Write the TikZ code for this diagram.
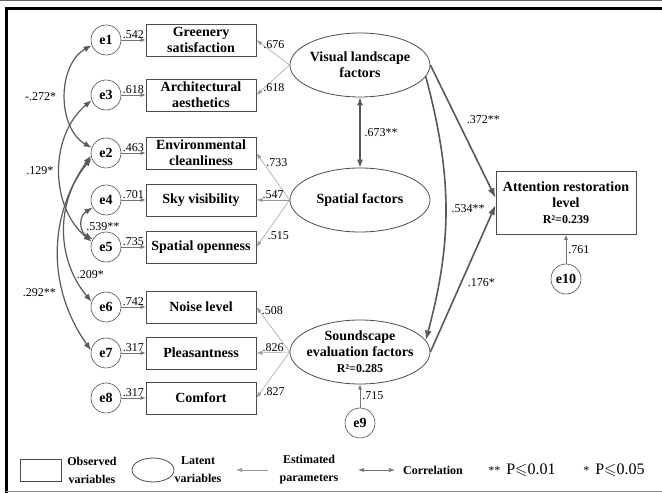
\documentclass[tikz,border=0pt]{standalone}
\usepackage{amssymb}
\usepackage{fontspec}
\setmainfont{Liberation Serif}
\usetikzlibrary{shapes.geometric,arrows.meta}

\tikzset{
  obs/.style={draw=black!70, line width=0.8pt, minimum width=110pt, minimum height=32pt, inner sep=0pt, align=center, font=\fontsize{14}{16}\selectfont\bfseries},
  latent/.style={ellipse, draw=black!70, line width=0.8pt, minimum width=140pt, minimum height=64pt, inner sep=0pt},
  lattxt/.style={align=center, font=\fontsize{14}{16}\selectfont\bfseries},
  err/.style={circle, draw=black!70, line width=0.6pt, minimum size=30pt, inner sep=0pt, font=\fontsize{14}{16}\selectfont\bfseries},
  coef/.style={font=\fontsize{12}{12}\selectfont, inner sep=1pt},
  legtxt/.style={align=center, font=\fontsize{12}{18}\selectfont\bfseries},
  errarr/.style={-{Latex[length=5pt,width=4pt]}, draw=black!55, line width=0.6pt},
  load/.style={-{Latex[length=6pt,width=4pt]}, draw=black!40, line width=0.5pt},
  struct/.style={-{Latex[length=10pt,width=7pt]}, draw=black!65, line width=1.6pt},
  covar/.style={{Latex[length=8pt,width=6pt]}-{Latex[length=8pt,width=6pt]}, draw=black!65, line width=1.2pt},
}

\begin{document}
\begin{tikzpicture}[x=1pt,y=1pt]
\useasboundingbox (0,0) rectangle (662,493);
% frame
\draw[black!60, line width=1pt] (0,492.5) -- (662,492.5);
\draw[line width=3pt] (4.5,484) -- (662,484);
\draw[line width=3pt] (6,485.5) -- (6,0);
\draw[black!45, line width=1.5pt] (6,1.5) -- (662,1.5);

%% observed variables
\node[obs] (gs) at (201,453) {Greenery\\satisfaction};
\node[obs] (aa) at (201,398) {Architectural\\aesthetics};
\node[obs] (ec) at (201,340) {Environmental\\cleanliness};
\node[obs] (sv) at (201,293) {Sky visibility};
\node[obs] (so) at (201,246) {Spatial openness};
\node[obs] (nl) at (201,186) {Noise level};
\node[obs] (pl) at (201,140) {Pleasantness};
\node[obs] (cf) at (201,95) {Comfort};

%% residuals
\node[err] (e1) at (106,453) {e1};
\node[err] (e3) at (106,398) {e3};
\node[err] (e2) at (106,340) {e2};
\node[err] (e4) at (106,293) {e4};
\node[err] (e5) at (106,246) {e5};
\node[err] (e6) at (106,186) {e6};
\node[err] (e7) at (106,140) {e7};
\node[err] (e8) at (106,95) {e8};

%% latent variables
\node[latent, label={[lattxt]center:{Visual landscape\\factors}}] (vis) at (360,428) {};
\node[latent, label={[lattxt]center:{Spatial factors}}] (spa) at (360,293) {};
\node[latent, label={[lattxt]center:{Soundscape\\evaluation factors\\{\fontsize{12}{16}\selectfont R²=0.285}}}] (snd) at (360,141) {};
\node[obs, minimum width=140pt, minimum height=63pt] (att) at (566,290) {Attention restoration\\level\\{\fontsize{12}{17}\selectfont R²=0.239}};
\node[err] (e9) at (360,70) {e9};
\node[err] (e10) at (566,214) {e10};

%% residual paths
\foreach \e/\v/\val in {e1/gs/.542, e3/aa/.618, e2/ec/.463, e4/sv/.701, e5/so/.735, e6/nl/.742, e7/pl/.317, e8/cf/.317}
  \draw[errarr] (\e) -- node[coef, above] {\val} (\v);
\draw[errarr] (e9) -- node[coef, right=1pt] {.715} (snd);
\draw[errarr] (e10) -- node[coef, right=1pt] {.761} (att);

%% loadings
\draw[load] (vis.west) -- node[coef, pos=0.47, above=3pt] {.676} (gs.east);
\draw[load] (vis.west) -- node[coef, pos=0.47, below=3pt] {.618} (aa.east);
\draw[load] (spa.west) -- node[coef, pos=0.8, right=2pt] {.733} (ec.east);
\draw[load] (spa.west) -- node[coef, midway, above] {.547} (sv.east);
\draw[load] (spa.west) -- node[coef, pos=0.75, right=2pt] {.515} (so.east);
\draw[load] (snd.west) -- node[coef, pos=0.93, right=2pt] {.508} (nl.east);
\draw[load] (snd.west) -- node[coef, midway, above] {.826} (pl.east);
\draw[load] (snd.west) -- node[coef, pos=0.85, right=1pt] {.827} (cf.east);

%% structural paths
\draw[covar] (vis) -- node[coef, right=3pt] {.673**} (spa);
\draw[struct] (vis.east) -- node[coef, pos=0.41, right=8pt] {.372**} ([yshift=5pt]att.west);
\draw[struct] (vis.350) to[out=-75, in=75] node[coef, pos=0.5, right=4pt] {.534**} (snd.10);
\draw[struct] (snd.east) -- node[coef, pos=0.47, right=5pt] {.176*} ([yshift=-2pt]att.west);

%% correlations of residuals
\draw[covar] (e1.200) to[out=210, in=150] node[coef, left=8pt] {-.272*} (e2.160);
\draw[covar] (e3.200) to[out=220, in=140] node[coef, left=5pt] {.129*} (e5.160);
\draw[covar] (e4.210) to[out=210, in=150, looseness=1.3] node[coef, pos=0.6, anchor=west, xshift=2pt] {.539**} (e5.150);
\draw[covar] (e2.200) to[out=230, in=130] node[coef, pos=0.8, anchor=west, xshift=1pt] {.209*} (e6.160);
\draw[covar] (e2.190) to[out=235, in=125] node[coef, pos=0.7, left=6pt] {.292**} (e7.170);

%% legend
\node[obs, minimum width=41pt, minimum height=22pt] (lgobs) at (40.5,23) {};
\node[legtxt] (lgobst) at (92,23) {Observed\\variables};
\node[latent, minimum width=42pt, minimum height=24pt] (lglat) at (153,23) {};
\node[legtxt] (lglatt) at (198,23) {Latent\\variables};
\coordinate (la1) at (268,23);
\coordinate (la2) at (236,23);
\draw[load] (la1) -- (la2);
\node[legtxt] (lgest) at (309,23) {Estimated\\parameters};
\coordinate (lc1) at (358,23);
\coordinate (lc2) at (395,23);
\draw[{Latex[length=6pt,width=4pt]}-{Latex[length=6pt,width=4pt]}, draw=black!55, line width=0.6pt] (lc1) -- (lc2);
\node[legtxt] (lgcor) at (433,23) {Correlation};
\node (lgp1) at (522,23) {{\fontsize{12}{12}\selectfont**}\hspace{6pt}{\fontsize{16}{16}\selectfont P$\leqslant$0.01}};
\node (lgp2) at (614,23) {{\fontsize{12}{12}\selectfont*}\hspace{6pt}{\fontsize{16}{16}\selectfont P$\leqslant$0.05}};
\end{tikzpicture}
\end{document}
